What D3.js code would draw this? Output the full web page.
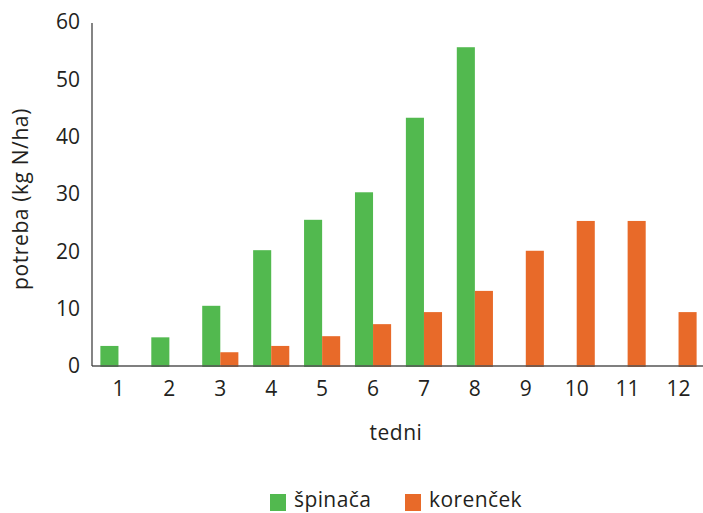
<!DOCTYPE html>
<html>
<head>
<meta charset="utf-8">
<script src="https://cdn.jsdelivr.net/npm/d3@7"></script>
<style>
  body { margin: 0; background: #fff; }
  svg { display: block; font-family: "Open Sans", "Noto Sans", sans-serif; }
</style>
</head>
<body>
<div id="chart"></div>
<script>
const weeks = ["1", "2", "3", "4", "5", "6", "7", "8", "9", "10", "11", "12"];
const spinach = [3.5, 5, 10.5, 20.2, 25.5, 30.3, 43.3, 55.6, 0, 0, 0, 0];
const dill = [0, 0, 2.4, 3.5, 5.2, 7.3, 9.4, 13.1, 20.1, 25.3, 25.3, 9.4];
const seriesNames = ["špinača", "korenček"];
const colors = ["#52b94f", "#e86a29"];
const yTicks = [0, 10, 20, 30, 40, 50, 60];

const width = 703, height = 513;
const margin = { top: 22, right: 0, bottom: 147, left: 93 };
const fontSize = 21;

const svg = d3.select("#chart").append("svg")
    .attr("width", width)
    .attr("height", height);

const x = d3.scaleBand()
    .domain(weeks)
    .range([margin.left, width + 1])
    .paddingInner(0.29)
    .paddingOuter(0.145);

const x1 = d3.scaleBand()
    .domain(seriesNames)
    .range([0, x.bandwidth()]);

const y = d3.scaleLinear()
    .domain([0, 60])
    .range([height - margin.bottom, margin.top]);

const rows = weeks.map((w, i) => ({ week: w, values: [spinach[i], dill[i]] }));

// bars
const groups = svg.append("g")
    .selectAll("g")
    .data(rows)
    .join("g")
    .attr("transform", d => `translate(${x(d.week)},0)`);

groups.selectAll("rect")
    .data(d => d.values.map((v, j) => ({ name: seriesNames[j], value: v, j })))
    .join("rect")
    .filter(d => d.value > 0)
    .attr("x", d => x1(d.name))
    .attr("y", d => y(d.value))
    .attr("width", x1.bandwidth())
    .attr("height", d => y(0) - y(d.value) + 1)
    .attr("fill", d => colors[d.j]);

// axes (lines only, no ticks)
svg.append("line")
    .attr("x1", margin.left - 1).attr("x2", width)
    .attr("y1", y(0)).attr("y2", y(0))
    .attr("stroke", "#555").attr("stroke-width", 1.5);

svg.append("line")
    .attr("x1", margin.left - 1).attr("x2", margin.left - 1)
    .attr("y1", y(60) + 1).attr("y2", y(0))
    .attr("stroke", "#333").attr("stroke-width", 1.2);

// y tick labels
svg.append("g")
    .selectAll("text")
    .data(yTicks)
    .join("text")
    .attr("x", 80)
    .attr("y", d => y(d))
    .attr("dy", "0.35em")
    .attr("text-anchor", "end")
    .attr("font-size", fontSize)
    .attr("fill", "#231f20")
    .text(d => d);

// x tick labels
svg.append("g")
    .selectAll("text")
    .data(weeks)
    .join("text")
    .attr("x", d => x(d) + x.bandwidth() / 2)
    .attr("y", 389)
    .attr("dy", "0.35em")
    .attr("text-anchor", "middle")
    .attr("font-size", fontSize)
    .attr("fill", "#231f20")
    .text(d => d);

// axis titles
svg.append("text")
    .attr("x", 396)
    .attr("y", 433)
    .attr("dy", "0.35em")
    .attr("text-anchor", "middle")
    .attr("font-size", fontSize)
    .attr("letter-spacing", 0.5)
    .attr("fill", "#231f20")
    .text("tedni");

svg.append("text")
    .attr("transform", "translate(21,199) rotate(-90)")
    .attr("dy", "0.35em")
    .attr("text-anchor", "middle")
    .attr("font-size", fontSize)
    .attr("letter-spacing", 0.6)
    .attr("fill", "#231f20")
    .text("potreba (kg N/ha)");

// legend
const legendX = [270, 405];
const legend = svg.append("g")
    .selectAll("g")
    .data(seriesNames)
    .join("g")
    .attr("transform", (d, i) => `translate(${legendX[i]},494)`);

legend.append("rect")
    .attr("width", 16).attr("height", 17)
    .attr("fill", (d, i) => colors[i]);

legend.append("text")
    .attr("x", 24)
    .attr("y", 6)
    .attr("dy", "0.35em")
    .attr("font-size", fontSize)
    .attr("letter-spacing", 0.4)
    .attr("fill", "#231f20")
    .text(d => d);
</script>
</body>
</html>
